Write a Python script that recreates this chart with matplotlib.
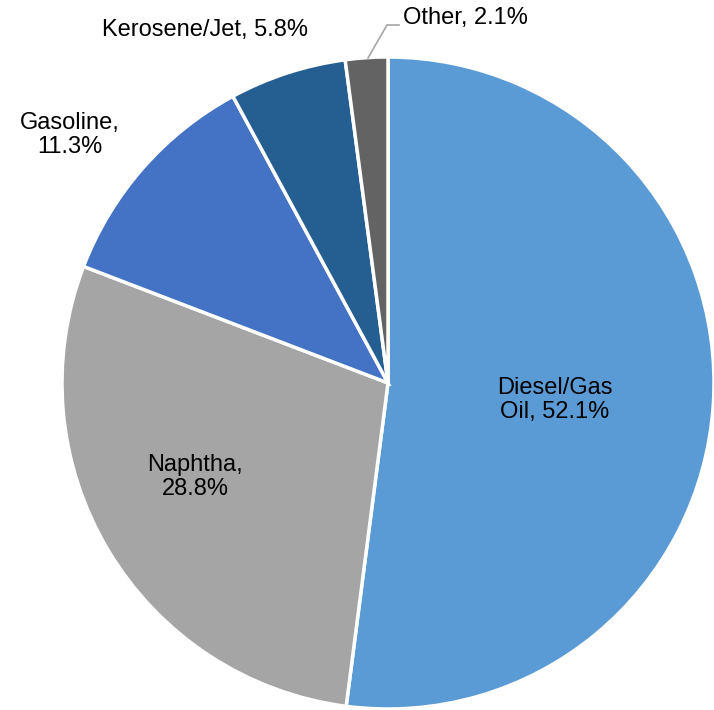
import matplotlib.pyplot as plt

labels = ["Diesel/Gas\nOil, ", "Naphtha,\n", "Gasoline,\n", "Kerosene/Jet, ", "Other, "]
shares = [52.1, 28.8, 11.3, 5.8, 2.1]
colors = ["#5B9BD5", "#A5A5A5", "#4472C4", "#255E91", "#636363"]

plt.rcParams["font.family"] = ["Liberation Sans", "DejaVu Sans"]

fig = plt.figure(figsize=(7.14, 7.10), dpi=100)
ax = fig.add_axes([0, 0, 1, 1])

H = 710
cx, cy, r = 388, H - 383, 326
ax.pie(shares, colors=colors, startangle=90, counterclock=False,
       center=(cx, cy), radius=r,
       wedgeprops=dict(edgecolor="white", linewidth=2.5), frame=True)
ax.set_xlim(0, 714)
ax.set_ylim(0, 710)
ax.set_aspect("equal")
ax.axis("off")

# label positions (pixels from top-left of the picture)
spots = [(555, 400, "center"), (195, 477, "center"), (70, 135, "center"),
         (205, 30, "center"), (403, 18, "left")]
for lab, val, (x, y, ha) in zip(labels, shares, spots):
    ax.text(x, H - y, "%s%.1f%%" % (lab, val), ha=ha, va="center",
            fontsize=17, linespacing=1.15)

# leader line for the small slice
ax.plot([368, 387, 399], [H - 58, H - 25, H - 25], color="#A6A6A6", lw=1.2)

fig.savefig("out.png", dpi=100)
